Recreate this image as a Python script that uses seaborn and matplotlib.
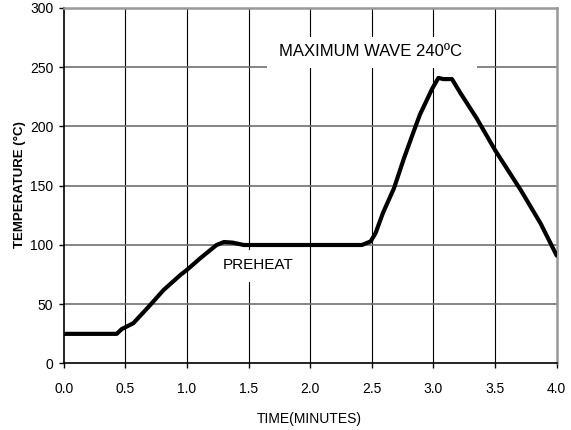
import matplotlib
matplotlib.use("Agg")
import matplotlib.pyplot as plt
from matplotlib.patches import Rectangle
import seaborn as sns
import pandas as pd

# Wave-soldering temperature profile
time_min = [0.0, 0.43, 0.47, 0.565, 0.69, 0.81, 0.95, 1.0, 1.11, 1.24, 1.30, 1.37,
            1.46, 2.0, 2.42, 2.49, 2.53, 2.59, 2.68, 2.76, 2.84, 2.89, 2.99, 3.04,
            3.08, 3.15, 3.22, 3.35, 3.50, 3.71, 3.87, 4.0]
temp_c = [25, 25, 29, 34, 48, 62, 75, 79, 89, 100, 102.5, 102,
          100, 100, 100, 103, 110, 127, 148, 173, 196, 210, 232, 241,
          240, 240, 228, 207, 180, 146, 118, 91]

x_ticks = [0.0, 0.5, 1.0, 1.5, 2.0, 2.5, 3.0, 3.5, 4.0]
y_ticks = [0, 50, 100, 150, 200, 250, 300]

peak_label = "MAXIMUM WAVE 240ºC"
preheat_label = "PREHEAT"

df = pd.DataFrame({"time": time_min, "temp": temp_c})

sns.set_theme(style="white")
plt.rcParams["font.family"] = ["Liberation Sans", "DejaVu Sans"]

fig = plt.figure(figsize=(5.71, 4.30), dpi=100)
ax = fig.add_axes([0.1116, 0.1547, 0.8634, 0.8267])

sns.lineplot(data=df, x="time", y="temp", ax=ax, color="black", linewidth=3.0,
             zorder=5, estimator=None, sort=False)

ax.set_xlim(0, 4.0)
ax.set_ylim(0, 300)
ax.set_xticks(x_ticks)
ax.set_xticklabels([f"{v:.1f}" for v in x_ticks])
ax.set_yticks(y_ticks)

# grid: black verticals, grey horizontals
for xv in x_ticks[1:-1]:
    ax.axvline(xv, color="black", linewidth=0.8, zorder=1)
for yv in y_ticks[1:-1]:
    ax.axhline(yv, color="#707070", linewidth=1.2, zorder=1)

ax.tick_params(axis="both", which="major", direction="out", length=3.5, width=1,
               color="black", labelsize=10, labelcolor="black", left=True, bottom=True)
ax.tick_params(axis="x", pad=10)
ax.tick_params(axis="y", pad=4)

for side in ["left", "bottom"]:
    ax.spines[side].set_color("black")
    ax.spines[side].set_linewidth(1.2)
for side in ["top", "right"]:
    ax.spines[side].set_color("#999999")
    ax.spines[side].set_linewidth(1.8)

# white label boxes over the grid
ax.add_patch(Rectangle((1.65, 249.3), 1.705, 26.2, facecolor="white",
                       edgecolor="none", zorder=2))
ax.text(2.486, 263.7, peak_label, ha="center", va="center", fontsize=12,
        color="black", zorder=3)
ax.add_patch(Rectangle((1.22, 68.8), 0.72, 27.0, facecolor="white",
                       edgecolor="none", zorder=2))
ax.text(1.58, 83.1, preheat_label, ha="center", va="center", fontsize=11,
        color="black", zorder=3)

ax.set_xlabel("TIME(MINUTES)", fontsize=10, color="black")
ax.xaxis.set_label_coords(0.4976, -0.136)
ax.set_ylabel("TEMPERATURE (°C)", fontsize=9.5, fontweight="bold", color="black",
              family=["Liberation Sans Narrow", "Liberation Sans", "DejaVu Sans"])
ax.yaxis.set_label_coords(-0.076, 0.502)

fig.savefig("out.png", dpi=100)
